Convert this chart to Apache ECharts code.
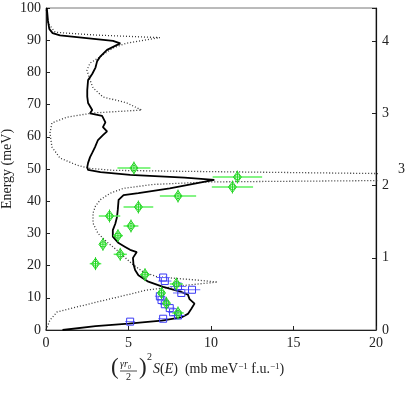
<!DOCTYPE html>
<html><head><meta charset="utf-8">
<script src="https://cdn.jsdelivr.net/npm/echarts@6/dist/echarts.min.js"></script>
<style>html,body{margin:0;padding:0;background:#fff}#c{width:415px;height:395px}</style>
</head><body><div id="c"></div>
<script>
// Solid black curve: [S(E), Energy]
const solidX = [1.0,3.0,5.0,7.0,8.2,8.6,8.8,9.0,8.7,8.6,8.1,7.1,6.2,5.6,5.4,5.3,5.27,5.5,5.1,4.8,4.4,4.05,4.05,4.2,4.3,4.35,4.4,4.7,5.6,7.5,10.2,8.4,5.1,3.3,2.55,2.5,2.55,2.67,2.8,2.97,3.15,3.45,3.7,3.45,3.6,3.4,2.67,2.8,2.55,2.5,2.5,2.55,2.8,3.0,3.1,3.3,3.7,4.5,4.06,0.85,0.4,0.2,0.12,0.05];
const solidE = [0,1.2,2.0,2.9,3.9,5.0,6.5,8.2,9.6,11.0,12.0,13.4,15.0,17.0,18.6,20.5,22.4,24.2,24.9,25.8,27.0,29.0,31.0,33.0,35.0,37.3,40.4,41.9,42.5,44.0,46.6,47.3,48.2,49.0,49.7,50.6,51.9,53.7,55.0,56.8,59.0,60.5,61.7,63.0,64.5,66.5,67.3,68.3,70.5,72.5,74.5,77.6,79.5,81.5,83.5,85.0,87.0,89.0,89.8,91.5,92.2,93.5,96.0,100];
// Dotted curve: [S(E), Energy]
const dotX = [0,0.24,0.67,1.6,2.85,4.9,6.1,8.3,10.4,9.15,7.7,6.7,5.9,5.3,4.9,4.3,3.7,3.15,2.85,2.85,3.0,3.3,3.9,4.7,6.5,10,25,25,8,4,2.6,1.88,0.85,0.36,0.24,0.36,1.27,2.85,5.8,4.9,3.45,2.85,2.67,2.48,2.67,3.27,4.06,4.9,6.9,3.0,1.27,0.55,0.12,0];
const dotE = [0,3.1,5.6,6.8,8.4,10.9,12.4,13.8,14.9,15.5,16.1,16.6,18.0,20.2,22.0,24.8,27.3,30.0,33.2,36.3,38.5,40.5,42.5,44.0,45.2,46.0,46.6,48.3,49.3,49.6,50.2,51.2,53.4,56.8,61.2,64.3,66.1,67.4,68.3,70.5,72.4,75.2,77.6,80.7,82.9,84.8,87.6,89.1,90.8,91.6,92.2,92.5,95.3,100];
// Green data points with horizontal errors
const greenX = [5.33,11.6,11.3,8.0,5.6,3.85,5.15,4.36,3.45,4.5,3.0,6.0,7.9,7.0,7.3,8.0];
const greenE = [50.3,47.5,44.4,41.6,38.2,35.4,32.3,29.3,26.6,23.5,20.6,17.2,14.3,11.5,8.3,5.3];
const greenErr = [1.0,1.5,1.25,1.1,0.9,0.65,0.45,0.3,0.2,0.4,0.35,0.3,0.4,0.2,0.2,0.35];
// Blue squares with horizontal errors
const blueX = [5.1,7.1,8.0,7.7,7.5,7.2,7.0,6.9,8.2,8.85,8.0,7.2,7.1];
const blueE = [2.6,3.5,4.5,5.5,6.8,8.0,9.3,10.5,11.5,12.5,13.5,15.2,16.3];
const blueErr = [0.3,0.3,0.4,0.3,0.3,0.3,0.3,0.3,0.5,0.5,0.5,0.4,0.4];
const leftTicks = [0,10,20,30,40,50,60,70,80,90,100];
const rightTicks = [0,1,2,3,4];

const FONT = '"Liberation Serif", "DejaVu Serif", serif';
const zip = (a,b,c) => a.map((v,i)=> c ? [v,b[i],c[i]] : [v,b[i]]);

function greenRender(params, api){
  const x=api.value(0), y=api.value(1), e=api.value(2);
  const c=api.coord([x,y]), l=api.coord([x-e,y]), r=api.coord([x+e,y]);
  const w=4, h=5.5, col='#22d422';
  return {type:'group', children:[
    {type:'line', shape:{x1:l[0],y1:c[1],x2:r[0],y2:c[1]}, style:{stroke:'#5cf05c', lineWidth:1.5}},
    {type:'polygon', shape:{points:[[c[0],c[1]-h],[c[0]+w,c[1]],[c[0],c[1]+h],[c[0]-w,c[1]]]}, style:{fill:null, stroke:col, lineWidth:1}},
    {type:'circle', shape:{cx:c[0],cy:c[1],r:2.6}, style:{fill:null, stroke:col, lineWidth:1}},
    {type:'line', shape:{x1:c[0],y1:c[1]-h-1,x2:c[0],y2:c[1]+h+1}, style:{stroke:col, lineWidth:1}}
  ]};
}
function blueRender(params, api){
  const x=api.value(0), y=api.value(1), e=api.value(2);
  const c=api.coord([x,y]), l=api.coord([x-e,y]), r=api.coord([x+e,y]);
  const s=3.5, col='#3b3bf5';
  return {type:'group', children:[
    {type:'line', shape:{x1:l[0],y1:c[1],x2:r[0],y2:c[1]}, style:{stroke:'#6c6cff', lineWidth:1}},
    {type:'rect', shape:{x:c[0]-s,y:c[1]-s,width:2*s,height:2*s}, style:{fill:null, stroke:col, lineWidth:1}}
  ]};
}

const chart = echarts.init(document.getElementById('c'), null, {renderer:'canvas'});
chart.setOption({
  animation:false,
  grid:{left:46, right:39, top:8, bottom:65, containLabel:false, outerBoundsMode:'none', show:true, borderColor:'#777', borderWidth:1},
  xAxis:{type:'value', min:0, max:20, interval:5,
    axisLine:{lineStyle:{color:'#222', width:1}}, splitLine:{show:false},
    axisTick:{inside:true, length:4, lineStyle:{color:'#222'}},
    axisLabel:{color:'#222', fontFamily:FONT, fontSize:14, margin:6}},
  yAxis:[
    {type:'value', min:0, max:100, interval:10, name:'Energy (meV)', nameLocation:'middle', nameGap:32, nameRotate:90, nameMoveOverlap:false,
     nameTextStyle:{color:'#222', fontFamily:FONT, fontSize:14},
     axisLine:{show:true, lineStyle:{color:'#222', width:1}}, splitLine:{show:false},
     axisTick:{inside:true, length:4, lineStyle:{color:'#222'}},
     axisLabel:{color:'#222', fontFamily:FONT, fontSize:14, margin:5,
       formatter: v => leftTicks.includes(v) ? String(v) : ''}},
    {type:'value', position:'right', min:0, max:4.457, interval:1, name:'3', nameLocation:'middle', nameGap:22, nameRotate:0, nameMoveOverlap:false,
     nameTextStyle:{color:'#222', fontFamily:FONT, fontSize:14},
     axisLine:{show:true, lineStyle:{color:'#111', width:1.2}}, splitLine:{show:false},
     axisTick:{inside:true, length:4, lineStyle:{color:'#222'}},
     axisLabel:{color:'#222', fontFamily:FONT, fontSize:14, margin:6,
       formatter: v => rightTicks.includes(v) ? String(v) : ''}}
  ],
  graphic:[
    {type:'text', left:111, top:356, style:{text:'(', font:'23px '+FONT, fill:'#222'}},
    {type:'text', left:120, top:359, style:{text:'γr₀', font:'italic 10px '+FONT, fill:'#222'}},
    {type:'line', shape:{x1:120, y1:371, x2:137, y2:371}, style:{stroke:'#222', lineWidth:0.8}},
    {type:'text', left:126, top:372, style:{text:'2', font:'10px '+FONT, fill:'#222'}},
    {type:'text', left:139, top:356, style:{text:')', font:'23px '+FONT, fill:'#222'}},
    {type:'text', left:147, top:352, style:{text:'2', font:'10px '+FONT, fill:'#222'}},
    {type:'text', left:153, top:362, style:{
      rich:{n:{font:'14px '+FONT, fill:'#222'}, i:{font:'italic 14px '+FONT, fill:'#222'}, s:{font:'9px '+FONT, fill:'#222', verticalAlign:'top', padding:[0,0,6,0]}},
      text:'{i|S}{n|(}{i|E}{n|)  (mb meV}{s|−1}{n| f.u.}{s|−1}{n|)}'}}
  ],
  series:[
    {type:'line', data:zip(dotX,dotE), showSymbol:false, symbol:'none', clip:true, z:2,
     lineStyle:{color:'#333', width:1.3, type:[1,2]}},
    {type:'line', data:zip(solidX,solidE), showSymbol:false, symbol:'none', clip:true, z:3,
     lineStyle:{color:'#000', width:1.8}},
    {type:'custom', renderItem:blueRender, data:zip(blueX,blueE,blueErr), z:4, clip:true},
    {type:'custom', renderItem:greenRender, data:zip(greenX,greenE,greenErr), z:5, clip:true}
  ]
});
</script></body></html>
